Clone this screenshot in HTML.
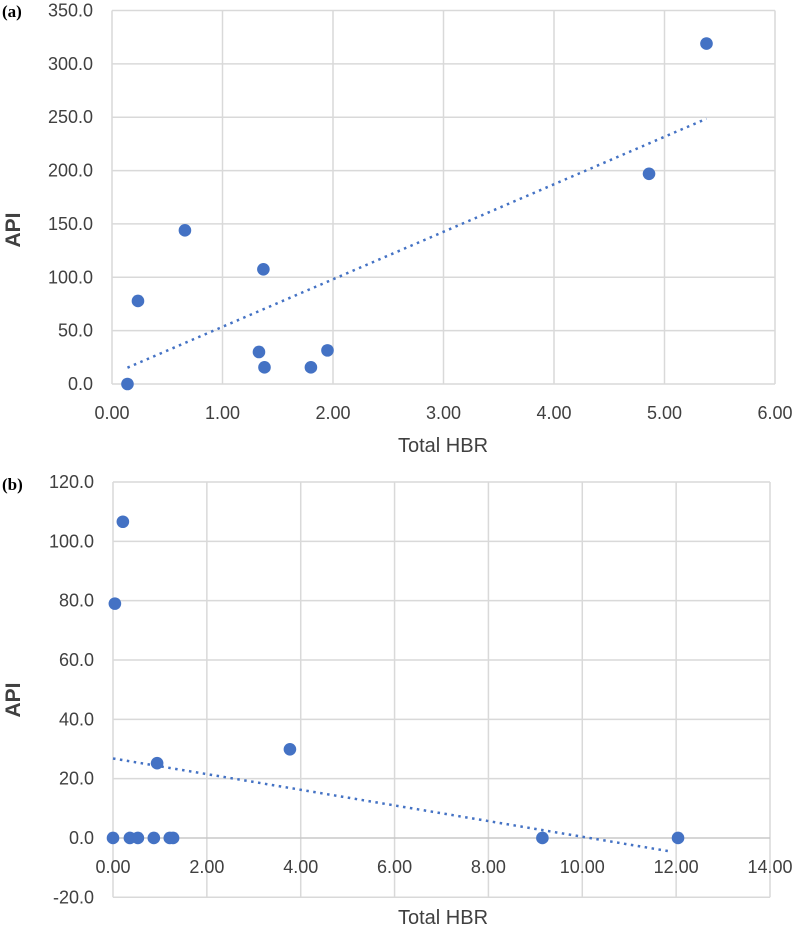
<!DOCTYPE html>
<html><head><meta charset="utf-8"><style>
body{margin:0;background:#fff}
svg{display:block}
text{font-family:"Liberation Sans",sans-serif;fill:#404040}
</style></head><body>
<svg id="s" width="797" height="927"></svg>
<script>
const aX=[0.14,0.235,0.66,1.37,1.33,1.38,1.80,1.95,4.86,5.38];
const aY=[0,77.8,144,107.5,30,15.6,15.6,31.5,197,319];
const aTrendX=[0.14,5.38];
const aTrendY=[15.3,248.6];
const aXTicks=[0,1,2,3,4,5,6];
const aYTicks=[0,50,100,150,200,250,300,350];
const bX=[0,0.04,0.21,0.36,0.53,0.87,1.21,1.28,0.94,3.77,9.15,12.04];
const bY=[0,79,106.6,0,0,0,0,0,25.2,29.9,0,0];
const bTrendX=[0,11.9];
const bTrendY=[26.8,-4.6];
const bXTicks=[0,2,4,6,8,10,12,14];
const bYTicks=[-20,0,20,40,60,80,100,120];
const NS="http://www.w3.org/2000/svg";
const svg=document.getElementById('s');
function mk(t,a,txt){const e=document.createElementNS(NS,t);for(const k in a)e.setAttribute(k,a[k]);if(txt!=null)e.textContent=txt;svg.appendChild(e);return e;}
function chart(p,c){
  const sx=v=>c.x0+(v-c.xmin)/(c.xmax-c.xmin)*(c.x1-c.x0);
  const sy=v=>c.y0-(v-c.ymin)/(c.ymax-c.ymin)*(c.y0-c.y1);
  c.xt.forEach(v=>{
    const l=mk('line',{x1:sx(v),x2:sx(v),y1:c.y1,y2:c.y0,stroke:'#d9d9d9','stroke-width':1.5});
    
    const t=mk('text',{x:sx(v),y:c.xly,'text-anchor':'middle','font-size':18},v.toFixed(2));
    
  });
  c.yt.forEach(v=>{
    const l=mk('line',{x1:c.x0,x2:c.x1,y1:sy(v),y2:sy(v),stroke:v===0&&c.ymin<0?'#c8c8c8':'#d9d9d9','stroke-width':1.5});
    
    const t=mk('text',{x:c.ylx,y:sy(v)+6,'text-anchor':'end','font-size':18},v.toFixed(1));
    
  });
  const tr=mk('line',{x1:sx(c.tx[0]),y1:sy(c.ty[0]),x2:sx(c.tx[1]),y2:sy(c.ty[1]),stroke:'#4472c4','stroke-width':2.5,'stroke-dasharray':'2.5 4.5'});
  
  c.px.forEach((v,i)=>{
    const d=mk('circle',{cx:sx(v),cy:sy(c.py[i]),r:6.3,fill:'#4472c4'});
    
  });
  const xt=mk('text',{x:c.xtx,y:c.xty,'text-anchor':'middle','font-size':20},'Total HBR');
  
  const yt=mk('text',{x:0,y:0,'text-anchor':'middle','font-size':21,'font-weight':'bold',transform:`translate(${c.ytx},${c.yty}) rotate(-90)`},'API');
  
  const pl=mk('text',{x:2,y:c.ply,'font-size':17,'font-weight':'bold',style:'font-family:"Liberation Serif",serif;fill:#000'},c.pl);
  
}
chart('a',{x0:112,x1:775,xmin:0,xmax:6,y0:384,y1:10.5,ymin:0,ymax:350,xt:aXTicks,yt:aYTicks,px:aX,py:aY,tx:aTrendX,ty:aTrendY,xly:419,ylx:93,xtx:443,xty:452,ytx:20,yty:230,ply:17,pl:'(a)'});
chart('b',{x0:113,x1:770,xmin:0,xmax:14,y0:897.3,y1:482,ymin:-20,ymax:120,xt:bXTicks,yt:bYTicks,px:bX,py:bY,tx:bTrendX,ty:bTrendY,xly:873,ylx:94,xtx:443,xty:924,ytx:20,yty:700,ply:490,pl:'(b)'});
</script>
</body></html>
